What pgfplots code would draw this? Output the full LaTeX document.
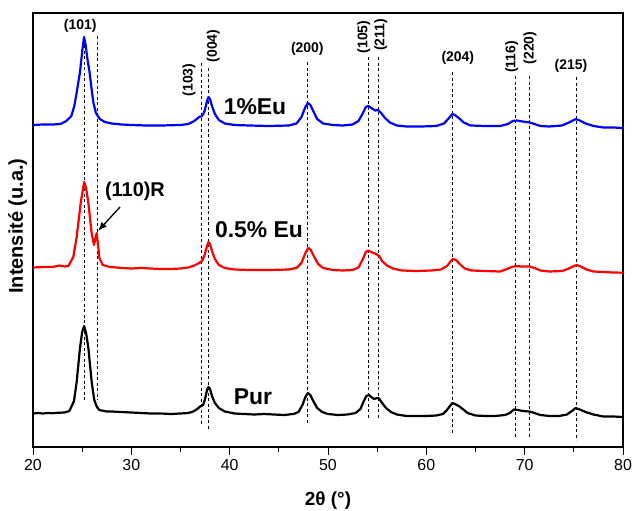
\documentclass[border=0pt]{standalone}
\usepackage{pgfplots}
\pgfplotsset{compat=1.18}
\usepackage{pgfplotstable}
\usetikzlibrary{arrows.meta}
\usepackage{fontspec}
\setmainfont{Liberation Sans}
\pgfplotstableread{
x y
20 413.5
20.5 413
21 413.5
21.5 413
22 413.2
22.5 412.8
23.2 412.5
23.7 411
24.17 401
24.44 382
24.78 348
25.0 332
25.2 326
25.4 333
25.63 348
25.97 382
26.23 400
26.5 407
26.75 410
27.5 411.5
28 411.5
29 412
30 412.5
31 413
32 413.5
33 413.5
34 414
35 413.5
35.8 413
36.3 411.5
36.7 409
37.0 406.5
37.3 405
37.5 399
37.7 390
37.85 387
38.0 389
38.2 396
38.5 403
38.9 408
39.5 411.5
40.5 413.5
41.5 414
42.5 414.5
43.5 414
44.5 414.5
45.5 415
46.5 414
47.0 412
47.4 405
47.7 397
47.95 393
48.2 395
48.5 401
48.9 408
49.4 412
50 414
51 415
52 414.5
52.8 413
53.3 409
53.6 402
53.9 396
54.15 395
54.4 397
54.7 399
55.0 398
55.2 398.5
55.5 403
55.9 408
56.4 412
57 414.5
58 416
59 416
60 416
61 415.5
61.7 414
62.1 410
62.4 406
62.65 403
62.9 404
63.3 406
63.7 409
64.2 413
65 415.5
66 416
67 416
68 415
68.5 413
68.9 409.5
69.3 410
69.8 411
70.5 411.5
71 413
71.6 415
72.5 416
73.5 416
74.3 414.5
74.8 411
75.2 408
75.6 409.5
76.2 412
77 414.5
78 416.5
79 416.5
80 417
}\pur
\pgfplotstableread{
x y
20 267.5
21 267
22 267
22.7 265.5
23.2 266.5
23.6 266
24.1 257
24.44 237
24.85 203
25.2 182
25.4 188
25.63 203
25.95 232
26.2 245
26.47 233
26.62 245
26.75 258
27.1 265
27.8 267
28.5 267.5
29 268
30 268.5
31 268
32 268.5
33 269
34 269
35 268.5
35.8 267.5
36.4 265.5
36.9 263
37.2 261
37.45 255
37.7 246
37.85 242
38.0 244
38.2 251
38.5 259
38.9 265
39.5 268
40.5 269.5
42 270
44 270
46 269.5
46.8 268
47.3 263
47.7 253
48.0 248
48.25 250
48.6 257
49.0 264
49.5 268
50.5 270
51.5 270.5
52.5 270
53.1 267.5
53.5 260
53.85 252
54.1 250.5
54.5 252.5
54.9 254
55.2 256
55.5 261
56 265.5
56.6 268.5
57.5 270.5
59 271
60.5 270.5
61.5 269.5
62.1 266
62.5 261
62.7 259
63.0 260
63.4 264
63.9 268.5
64.6 270.5
66 271
67.5 271.5
68.2 269
68.7 267
69.1 266
69.7 266.5
70.5 266.5
71.0 268
71.6 270.5
72.5 271.5
73.8 271
74.5 268.5
75.0 266
75.3 265
75.7 266.5
76.3 269.5
77 271.5
78 272
79 272.5
80 272.7
}\euhalf
\pgfplotstableread{
x y
20 125
21 124.5
22 124.5
22.8 124
23.4 121
23.9 116
24.2 106
24.45 92
24.78 72
25.0 52
25.19 37
25.35 45
25.55 60
25.75 72
25.97 90
26.15 103
26.4 113
26.8 119
27.3 122
28 123.5
29 124.5
30 125
31.5 125.5
33 125.5
35 125
35.8 124
36.4 121
36.9 117
37.2 116
37.45 111
37.7 101
37.85 97
38.0 99
38.2 106
38.5 114
38.9 120
39.5 123.5
40.5 125
42 125.5
44 126
46 125.5
46.8 123.5
47.3 117
47.7 107
47.95 103
48.2 105
48.5 111
48.9 119
49.5 123.5
50.5 125
51.5 125.5
52.5 124.5
53.1 121
53.5 114
53.85 107
54.1 106
54.4 108
54.8 110.5
55.1 110
55.4 113
55.8 118
56.3 122.5
57 125.5
58 126.5
59.5 126.5
61 126
61.8 123.5
62.3 118
62.65 114
62.9 115
63.3 118
63.8 122.5
64.5 125.5
66 126
67.5 126
68.3 124
68.8 121
69.2 120.5
69.8 121.5
70.5 122.5
71.0 124
71.6 126
72.5 126.5
73.8 125.5
74.5 122.5
75.0 120
75.2 119
75.6 120.5
76.2 123.5
77 126
78 127.5
79 127.5
80 128
}\euone
\begin{document}
\begin{tikzpicture}
\begin{axis}[
  name=main,
  scale only axis,
  width=590bp, height=434bp,
  xmin=20, xmax=80,
  ymin=13, ymax=447,
  y dir=reverse,
  axis line style={line width=1.3bp},
  xtick={20,30,...,80},
  minor xtick={25,35,...,75},
  xtick pos=left,
  xtick align=outside,
  ytick=\empty,
  minor ytick={41.9,70.8,99.7,128.6,157.5,186.4,215.3,244.2,273.1,302,330.9,359.8,388.7,417.6},
  ytick pos=both,
  ytick align=inside,
  major tick length=8bp,
  minor tick length=4.5bp,
  every tick/.style={line width=1bp, black},
  tick label style={font=\fontsize{16}{18}\selectfont},
  xticklabel style={yshift=-1bp},
  /pgf/number format/assume math mode=true,
  xlabel={\textbf{2θ (°)}},
  xlabel style={font=\fontsize{19}{22}\selectfont, at={(axis description cs:0.5,-0.124)}, anchor=center},
  ylabel={\textbf{Intensité (u.a.)}},
  ylabel style={font=\fontsize{20}{23}\selectfont, at={(axis description cs:-0.004,0.509)}, anchor=south, rotate=0},
  clip=false,
]
% dashed reference lines
\pgfplotsset{dl/.style={black, line width=0.9bp, dash pattern=on 3bp off 2.5bp, forget plot}}
\addplot[dl] coordinates {(25.2,45) (25.2,402)};
\addplot[dl] coordinates {(26.54,36) (26.54,400)};
\addplot[dl] coordinates {(37.09,63) (37.09,425)};
\addplot[dl] coordinates {(37.87,68) (37.87,430)};
\addplot[dl] coordinates {(47.9,62) (47.9,423)};
\addplot[dl] coordinates {(54.1,57) (54.1,419)};
\addplot[dl] coordinates {(55.13,57) (55.13,419)};
\addplot[dl] coordinates {(62.66,72) (62.66,433)};
\addplot[dl] coordinates {(69.07,76) (69.07,437)};
\addplot[dl] coordinates {(70.5,76) (70.5,437)};
\addplot[dl] coordinates {(75.3,77) (75.3,440)};
% curves
\addplot[black, line width=2.2bp, line join=round] table[x=x,y=y] {\pur};
\addplot[red, line width=2.2bp, line join=round] table[x=x,y=y] {\euhalf};
\addplot[blue, line width=2.2bp, line join=round] table[x=x,y=y] {\euone};
% peak labels
\tikzset{pk/.style={font=\bfseries\fontsize{14}{16}\selectfont, inner sep=0pt}}
\node[pk] at (axis cs:24.8,26) {(101)};
\node[pk, rotate=90] at (axis cs:35.87,80) {(103)};
\node[pk, rotate=90] at (axis cs:38.32,46) {(004)};
\node[pk] at (axis cs:47.9,49) {(200)};
\node[pk, rotate=90] at (axis cs:53.63,37) {(105)};
\node[pk, rotate=90] at (axis cs:55.37,35) {(211)};
\node[pk] at (axis cs:63.2,58) {(204)};
\node[pk, rotate=90] at (axis cs:68.68,57) {(116)};
\node[pk, rotate=90] at (axis cs:70.54,48) {(220)};
\node[pk] at (axis cs:74.7,66) {(215)};
% sample labels
\tikzset{sl/.style={font=\bfseries\fontsize{23}{26}\selectfont, inner sep=0pt}}
\node[sl] at (axis cs:42.58,107) {1\%Eu};
\node[sl] at (axis cs:42.98,230) {0.5\% Eu};
\node[sl] at (axis cs:42.37,397) {Pur};
\node[font=\bfseries\fontsize{20}{23}\selectfont, inner sep=0pt] at (axis cs:30.37,191) {(110)R};
\draw[-{Latex[length=9bp,width=7bp]}, line width=1.3bp] (axis cs:28.85,207) -- (axis cs:26.61,231);
\end{axis}
\begin{axis}[
  scale only axis,
  width=590bp, height=434bp,
  xmin=20, xmax=80, ymin=13, ymax=447,
  axis line style={draw=none},
  xtick=\empty,
  minor xtick={25,30,...,75},
  xtick pos=right,
  xtick align=inside,
  ytick=\empty,
  minor tick length=4.5bp,
  every tick/.style={line width=1bp, black},
]
\end{axis}
\pgfresetboundingbox
\path (main.south west) ++(-33bp,-64bp) rectangle ++(633bp,511bp);
\end{tikzpicture}
\end{document}
